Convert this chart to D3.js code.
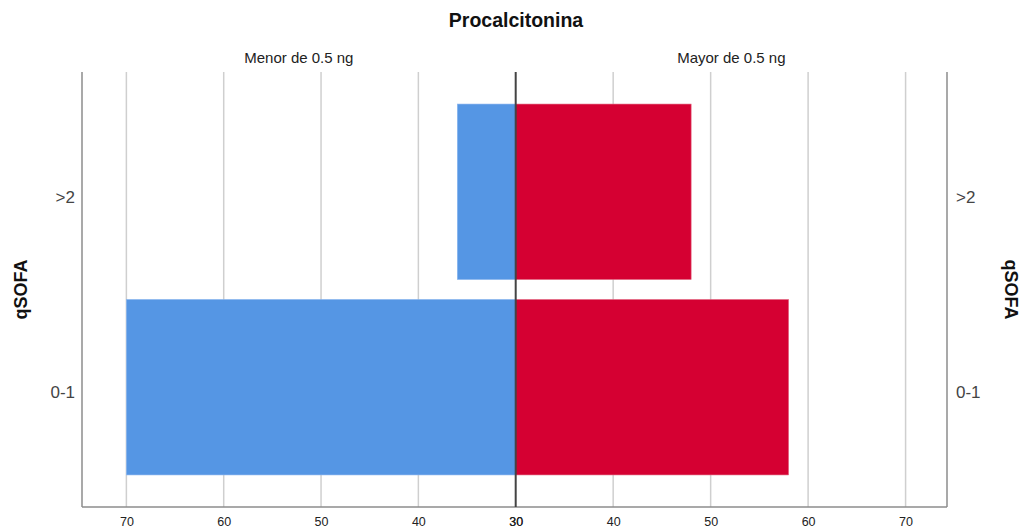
<!DOCTYPE html>
<html>
<head>
<meta charset="utf-8">
<script src="https://cdn.jsdelivr.net/npm/d3@7"></script>
<style>
	body { margin: 0; background: #fff; }
	svg { font-family: "Liberation Sans", Arial, sans-serif; }
</style>
</head>
<body>
<script>
// values
const categories = [">2", "0-1"];
const menor = [36, 70];   // Menor de 0.5 ng
const mayor = [48, 58];   // Mayor de 0.5 ng
const ticks = [30, 40, 50, 60, 70];
const groups = ["Menor de 0.5 ng", "Mayor de 0.5 ng"];

const width = 1027, height = 529;
const m = { top: 72, bottom: 22, left: 82, right: 80 };
const mid = 515.7;

const svg = d3.select("body").append("svg")
	.attr("width", width)
	.attr("height", height);

let scale = {
	left: d3.scaleLinear().domain([30, 74.56]).range([mid, m.left]),
	right: d3.scaleLinear().domain([30, 74.25]).range([mid, width - m.right]),
	y: d3.scaleBand().domain(categories).range([m.top, height - m.bottom])
		.paddingInner(0.102).paddingOuter(0.164),
};

const bottom = height - m.bottom;

// grid lines
let grid = svg.append("g").attr("class", "grid");
[scale.left, scale.right].forEach(s => {
	grid.selectAll(null)
		.data(ticks.filter(t => t !== 30))
		.enter().append("line")
			.attr("x1", d => s(d)).attr("x2", d => s(d))
			.attr("y1", m.top).attr("y2", bottom)
			.attr("stroke", "#cfcfcf")
			.attr("stroke-width", 1.5);
});

// bars
svg.append("g").selectAll("rect")
	.data(menor)
	.enter().append("rect")
		.attr("x", d => scale.left(d))
		.attr("y", (d, i) => scale.y(categories[i]))
		.attr("width", d => mid - scale.left(d))
		.attr("height", scale.y.bandwidth())
		.attr("fill", "#5596e4")
		.attr("stroke", "#8cb6ee")
		.attr("stroke-width", 0.6);

svg.append("g").selectAll("rect")
	.data(mayor)
	.enter().append("rect")
		.attr("x", mid)
		.attr("y", (d, i) => scale.y(categories[i]))
		.attr("width", d => scale.right(d) - mid)
		.attr("height", scale.y.bandwidth())
		.attr("fill", "#d50032")
		.attr("stroke", "#e36a85")
		.attr("stroke-width", 0.6);

// frame
svg.append("line")
	.attr("x1", m.left).attr("x2", m.left).attr("y1", m.top).attr("y2", bottom)
	.attr("stroke", "#8c8c8c").attr("stroke-width", 1.5);
svg.append("line")
	.attr("x1", width - m.right).attr("x2", width - m.right).attr("y1", m.top).attr("y2", bottom)
	.attr("stroke", "#8c8c8c").attr("stroke-width", 1.5);
svg.append("line")
	.attr("x1", m.left).attr("x2", width - m.right).attr("y1", bottom).attr("y2", bottom)
	.attr("stroke", "#8c8c8c").attr("stroke-width", 1.5);
svg.append("line")
	.attr("x1", mid).attr("x2", mid).attr("y1", m.top).attr("y2", bottom)
	.attr("stroke", "#444").attr("stroke-width", 2);

// x axes
[scale.left, scale.right].forEach(s => {
	svg.append("g")
		.attr("class", "axis x")
		.attr("transform", `translate(0, ${bottom})`)
		.call(d3.axisBottom(s).tickValues(ticks).tickSize(0).tickPadding(10))
		.call(g => g.select(".domain").remove())
		.call(g => g.selectAll("text").attr("font-size", 12.5).attr("fill", "#222")
			.attr("font-family", "Liberation Sans, Arial, sans-serif"));
});

// category labels
svg.append("g")
	.attr("transform", `translate(${m.left - 7}, 0)`)
	.call(d3.axisLeft(scale.y).tickSize(0).tickPadding(0))
	.call(g => g.select(".domain").remove())
	.call(g => g.selectAll("text").attr("font-size", 17).attr("fill", "#444").attr("dy", "0.65em")
		.attr("font-family", "Liberation Sans, Arial, sans-serif"));

svg.append("g")
	.attr("transform", `translate(${width - m.right + 9}, 0)`)
	.call(d3.axisRight(scale.y).tickSize(0).tickPadding(0))
	.call(g => g.select(".domain").remove())
	.call(g => g.selectAll("text").attr("font-size", 17).attr("fill", "#444").attr("dy", "0.65em")
		.attr("font-family", "Liberation Sans, Arial, sans-serif"));

// titles
svg.append("text")
	.attr("x", 516).attr("y", 27)
	.attr("text-anchor", "middle")
	.attr("font-size", 19.5).attr("font-weight", "bold").attr("fill", "#111")
	.text("Procalcitonina");

svg.append("text")
	.attr("x", (m.left + mid) / 2).attr("y", 63)
	.attr("text-anchor", "middle")
	.attr("font-size", 15).attr("fill", "#222")
	.text(groups[0]);

svg.append("text")
	.attr("x", (mid + width - m.right) / 2).attr("y", 63)
	.attr("text-anchor", "middle")
	.attr("font-size", 15).attr("fill", "#222")
	.text(groups[1]);

const cy = (m.top + bottom) / 2;
svg.append("text")
	.attr("transform", `translate(27, ${cy}) rotate(-90)`)
	.attr("text-anchor", "middle")
	.attr("font-size", 18).attr("font-weight", "bold").attr("fill", "#111")
	.text("qSOFA");

svg.append("text")
	.attr("transform", `translate(1005, ${cy}) rotate(90)`)
	.attr("text-anchor", "middle")
	.attr("font-size", 18).attr("font-weight", "bold").attr("fill", "#111")
	.text("qSOFA");
</script>
</body>
</html>
